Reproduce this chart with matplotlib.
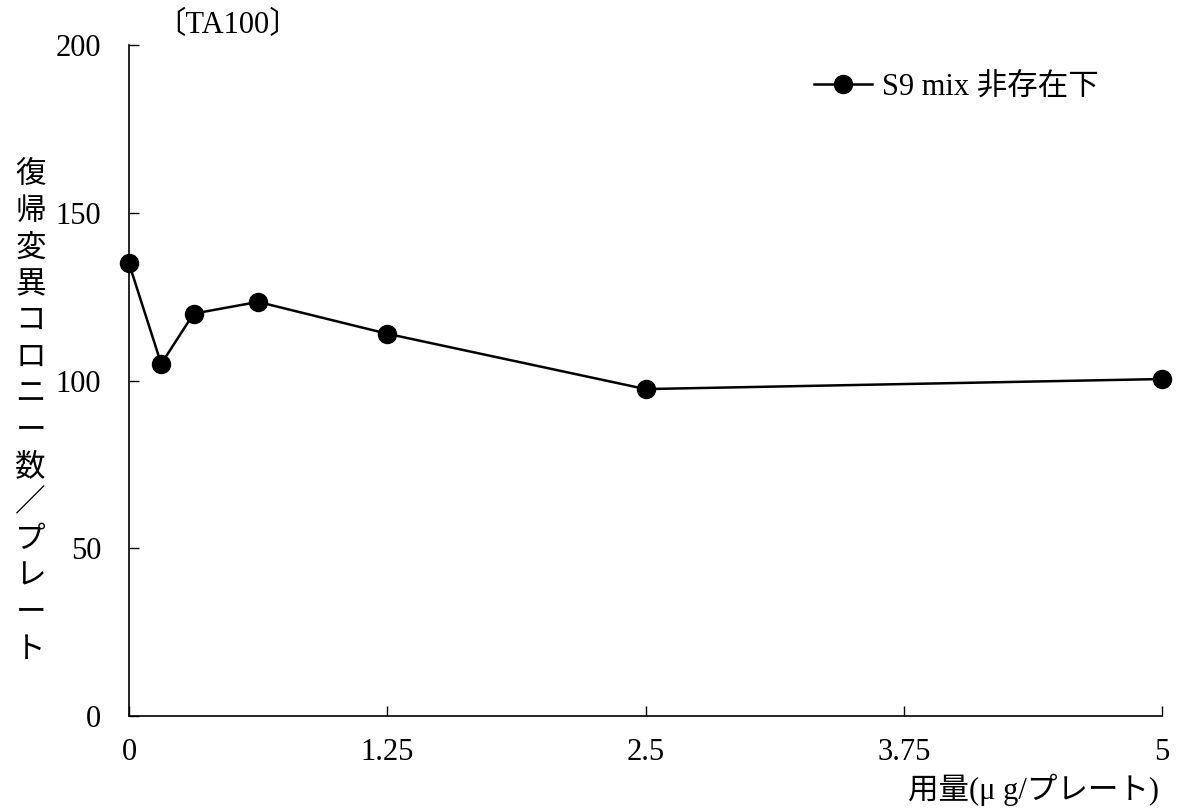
import matplotlib
matplotlib.use("Agg")
import matplotlib.pyplot as plt

plt.rcParams["font.family"] = ["Liberation Serif", "Noto Sans CJK JP"]
plt.rcParams["font.size"] = 22

dose = [0, 0.156, 0.313, 0.625, 1.25, 2.5, 5]
colonies = [135, 105, 120, 123.5, 114, 97.5, 100.5]
x_ticks = [0, 1.25, 2.5, 3.75, 5]
x_tick_labels = ["0", "1.25", "2.5", "3.75", "5"]
y_ticks = [0, 50, 100, 150, 200]

ylabel = "復帰変異コロニー数／プレート"

fig = plt.figure(figsize=(11.79, 8.10), dpi=100)
ax = fig.add_axes([0.1094, 0.116, 0.8762, 0.828])

ax.plot(dose, colonies, color="black", linewidth=1.8, marker="o",
        markersize=13, label="S9 mix 非存在下", clip_on=False)

ax.set_xlim(0, 5)
ax.set_ylim(0, 200)
ax.set_xticks(x_ticks)
ax.set_xticklabels(x_tick_labels)
ax.set_yticks(y_ticks)
ax.tick_params(axis="x", direction="in", length=7, width=1, pad=16,
               labelsize=22)
ax.tick_params(axis="y", direction="in", length=7, width=1, pad=20,
               labelsize=22)
for side in ["top", "right"]:
    ax.spines[side].set_visible(False)
for side in ["left", "bottom"]:
    ax.spines[side].set_linewidth(1.2)

ax.text(0.025, 1.03, "〔TA100〕", transform=ax.transAxes, fontsize=22,
        va="center", ha="left")

fig.text(0.026, 0.49, "\n".join(ylabel), ha="center", va="center",
         fontsize=22, linespacing=1.34)
fig.text(0.983, 0.025, "用量(μ g/プレート)", ha="right", va="center",
         fontsize=22)

leg = ax.legend(loc="upper right", bbox_to_anchor=(0.965, 1.0), frameon=False,
                handlelength=1.9, handletextpad=0.3, fontsize=22,
                borderaxespad=0.5)

fig.savefig("out.png", dpi=100)
